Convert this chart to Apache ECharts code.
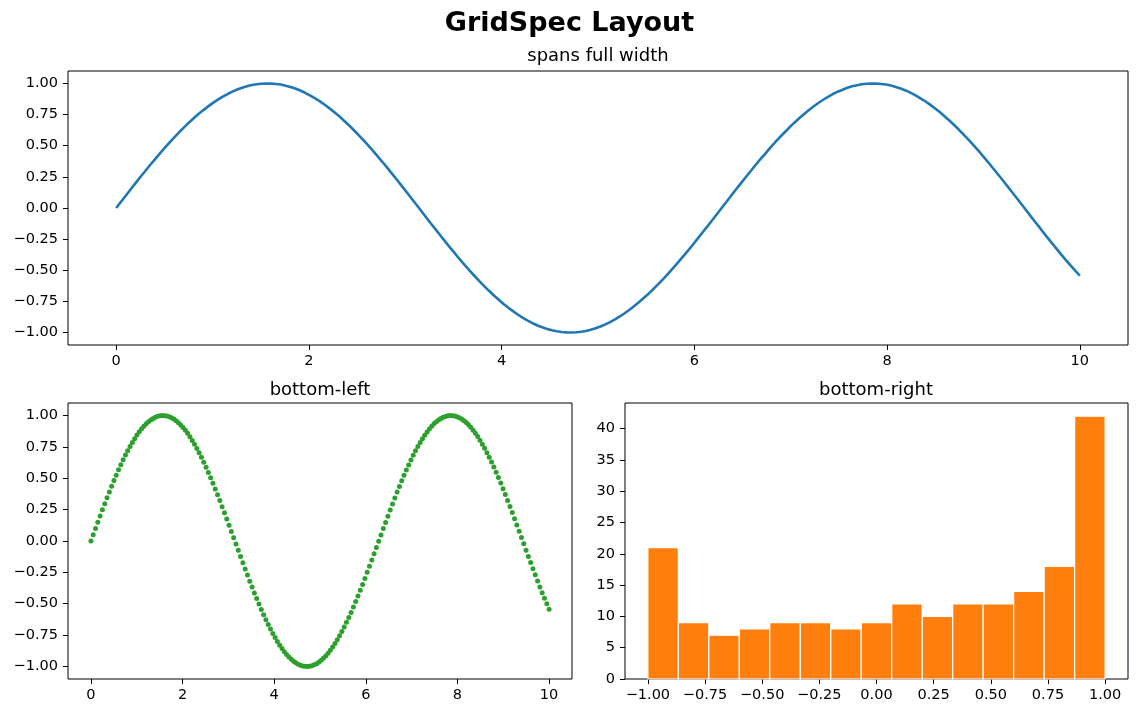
<!DOCTYPE html>
<html>
<head>
<meta charset="utf-8">
<title>GridSpec Layout</title>
<script src="https://cdn.jsdelivr.net/npm/echarts@6/dist/echarts.min.js"></script>
<style>
  html, body { margin: 0; padding: 0; background: #fff; }
  #main { width: 1139px; height: 716px; }
</style>
</head>
<body>
<div id="main"></div>
<script>
// sample positions along x (0 .. 10, 200 points)
const xs = [
  0, 0.050, 0.101, 0.151, 0.201, 0.251, 0.302, 0.352, 0.402, 0.452, 0.503, 0.553, 0.603, 0.653, 0.704, 0.754, 0.804, 0.854, 0.905, 0.955,
  1.005, 1.055, 1.106, 1.156, 1.206, 1.256, 1.307, 1.357, 1.407, 1.457, 1.508, 1.558, 1.608, 1.658, 1.709, 1.759, 1.809, 1.859, 1.910, 1.960,
  2.010, 2.060, 2.111, 2.161, 2.211, 2.261, 2.312, 2.362, 2.412, 2.462, 2.513, 2.563, 2.613, 2.663, 2.714, 2.764, 2.814, 2.864, 2.915, 2.965,
  3.015, 3.065, 3.116, 3.166, 3.216, 3.266, 3.317, 3.367, 3.417, 3.467, 3.518, 3.568, 3.618, 3.668, 3.719, 3.769, 3.819, 3.869, 3.920, 3.970,
  4.020, 4.070, 4.121, 4.171, 4.221, 4.271, 4.322, 4.372, 4.422, 4.472, 4.523, 4.573, 4.623, 4.673, 4.724, 4.774, 4.824, 4.874, 4.925, 4.975,
  5.025, 5.075, 5.126, 5.176, 5.226, 5.276, 5.327, 5.377, 5.427, 5.477, 5.528, 5.578, 5.628, 5.678, 5.729, 5.779, 5.829, 5.879, 5.930, 5.980,
  6.030, 6.080, 6.131, 6.181, 6.231, 6.281, 6.332, 6.382, 6.432, 6.482, 6.533, 6.583, 6.633, 6.683, 6.734, 6.784, 6.834, 6.884, 6.935, 6.985,
  7.035, 7.085, 7.136, 7.186, 7.236, 7.286, 7.337, 7.387, 7.437, 7.487, 7.538, 7.588, 7.638, 7.688, 7.739, 7.789, 7.839, 7.889, 7.940, 7.990,
  8.040, 8.090, 8.141, 8.191, 8.241, 8.291, 8.342, 8.392, 8.442, 8.492, 8.543, 8.593, 8.643, 8.693, 8.744, 8.794, 8.844, 8.894, 8.945, 8.995,
  9.045, 9.095, 9.146, 9.196, 9.246, 9.296, 9.347, 9.397, 9.447, 9.497, 9.548, 9.598, 9.648, 9.698, 9.749, 9.799, 9.849, 9.899, 9.950, 10
]

// curve values
const ys = [
  0.000, 0.050, 0.100, 0.150, 0.200, 0.249, 0.297, 0.345, 0.391, 0.437, 0.482, 0.525, 0.567, 0.608, 0.647, 0.685, 0.720, 0.754, 0.786, 0.816,
  0.844, 0.870, 0.894, 0.915, 0.934, 0.951, 0.965, 0.977, 0.987, 0.994, 0.998, 1.000, 0.999, 0.996, 0.991, 0.982, 0.972, 0.959, 0.943, 0.925,
  0.905, 0.882, 0.858, 0.831, 0.802, 0.771, 0.738, 0.703, 0.667, 0.628, 0.588, 0.547, 0.504, 0.460, 0.415, 0.369, 0.322, 0.274, 0.225, 0.176,
  0.126, 0.076, 0.026, -0.024, -0.074, -0.124, -0.174, -0.223, -0.272, -0.320, -0.367, -0.414, -0.459, -0.503, -0.546, -0.587, -0.627, -0.665, -0.702, -0.737,
  -0.770, -0.801, -0.830, -0.857, -0.882, -0.904, -0.925, -0.943, -0.958, -0.971, -0.982, -0.990, -0.996, -0.999, -1.000, -0.998, -0.994, -0.987, -0.978, -0.966,
  -0.951, -0.935, -0.916, -0.895, -0.871, -0.845, -0.817, -0.787, -0.755, -0.721, -0.686, -0.648, -0.609, -0.569, -0.527, -0.483, -0.439, -0.393, -0.346, -0.299,
  -0.250, -0.201, -0.152, -0.102, -0.052, -0.002, 0.048, 0.099, 0.148, 0.198, 0.247, 0.295, 0.343, 0.390, 0.435, 0.480, 0.524, 0.566, 0.606, 0.646,
  0.683, 0.719, 0.753, 0.785, 0.815, 0.843, 0.869, 0.893, 0.915, 0.934, 0.950, 0.965, 0.977, 0.986, 0.993, 0.998, 1.000, 0.999, 0.996, 0.991,
  0.983, 0.972, 0.959, 0.944, 0.926, 0.906, 0.883, 0.859, 0.832, 0.803, 0.772, 0.739, 0.704, 0.668, 0.630, 0.590, 0.549, 0.506, 0.462, 0.417,
  0.371, 0.323, 0.275, 0.227, 0.178, 0.128, 0.078, 0.028, -0.022, -0.073, -0.123, -0.172, -0.222, -0.270, -0.318, -0.366, -0.412, -0.457, -0.501, -0.544
]

// histogram of the curve values (15 bins)
const histEdges = [-1, -0.8667, -0.7333, -0.6, -0.4667, -0.3333, -0.2, -0.0667, 0.0667, 0.2, 0.3333, 0.4667, 0.6, 0.7333, 0.8667, 1]
const histCounts = [21, 9, 7, 8, 9, 9, 8, 9, 12, 10, 12, 12, 14, 18, 42]

// tick labels
const sinXTicks = [0, 2, 4, 6, 8, 10]
const sinYTicks = [-1, -0.75, -0.5, -0.25, 0, 0.25, 0.5, 0.75, 1]
const histXTicks = [-1, -0.75, -0.5, -0.25, 0, 0.25, 0.5, 0.75, 1]
const histYTicks = [0, 5, 10, 15, 20, 25, 30, 35, 40]

const FONT = 'DejaVu Sans'
const curveData = xs.map((x, i) => [x, ys[i]])
const histData = histCounts.map((c, i) => [histEdges[i], histEdges[i + 1], c])

function fmt2(v) {
  return (v < 0 ? '\u2212' : '') + Math.abs(v).toFixed(2)
}

function makeAxis(gridIndex, min, max, ticks, formatter, margin) {
  return {
    type: 'value',
    gridIndex: gridIndex,
    min: min,
    max: max,
    axisLine: { show: false, onZero: false },
    splitLine: { show: false },
    axisTick: {
      show: true,
      customValues: ticks,
      length: 5,
      lineStyle: { color: '#000', width: 1 }
    },
    axisLabel: {
      customValues: ticks,
      formatter: formatter,
      margin: margin,
      color: '#000',
      fontFamily: FONT,
      fontSize: 14.5
    }
  }
}

const dom = document.getElementById('main')
const myChart = echarts.init(dom, null, { renderer: 'canvas' })

const subTitle = (text, x, y) => ({
  text: text,
  left: x,
  top: y,
  textAlign: 'center',
  padding: 0,
  textStyle: { fontFamily: FONT, fontSize: 18, fontWeight: 'normal', color: '#000' }
})

const option = {
  backgroundColor: '#fff',
  animation: false,
  title: [
    {
      text: 'GridSpec Layout',
      left: 'center',
      top: 10,
      padding: 0,
      textStyle: { fontFamily: FONT, fontSize: 27, fontWeight: 'bold', color: '#000' }
    },
    subTitle('spans full width', 598, 47),
    subTitle('bottom-left', 320, 381),
    subTitle('bottom-right', 876, 381)
  ],
  grid: [
    { left: 68, top: 71, width: 1060, height: 274, show: true, borderColor: '#000', borderWidth: 1 },
    { left: 68, top: 403, width: 504, height: 276, show: true, borderColor: '#000', borderWidth: 1 },
    { left: 625, top: 403, width: 503, height: 276, show: true, borderColor: '#000', borderWidth: 1 }
  ],
  xAxis: [
    makeAxis(0, -0.5, 10.5, sinXTicks, v => String(v), 9),
    makeAxis(1, -0.5, 10.5, sinXTicks, v => String(v), 9),
    makeAxis(2, -1.1, 1.1, histXTicks, fmt2, 9)
  ],
  yAxis: [
    makeAxis(0, -1.1, 1.1, sinYTicks, fmt2, 10),
    makeAxis(1, -1.1, 1.1, sinYTicks, fmt2, 10),
    makeAxis(2, 0, 44.1, histYTicks, v => String(v), 10)
  ],
  series: [
    {
      name: 'spans full width',
      type: 'line',
      xAxisIndex: 0,
      yAxisIndex: 0,
      data: curveData,
      showSymbol: false,
      symbol: 'none',
      lineStyle: { color: '#1f77b4', width: 2.6 }
    },
    {
      name: 'bottom-left',
      type: 'scatter',
      xAxisIndex: 1,
      yAxisIndex: 1,
      data: curveData,
      symbol: 'circle',
      symbolSize: 5,
      itemStyle: { color: '#2ca02c', opacity: 1 }
    },
    {
      name: 'bottom-right',
      type: 'custom',
      xAxisIndex: 2,
      yAxisIndex: 2,
      data: histData,
      encode: { x: [0, 1], y: 2 },
      renderItem: function (params, api) {
        const p0 = api.coord([api.value(0), api.value(2)])
        const p1 = api.coord([api.value(1), 0])
        return {
          type: 'rect',
          shape: { x: p0[0], y: p0[1], width: p1[0] - p0[0], height: p1[1] - p0[1] },
          style: { fill: '#ff7f0e', stroke: '#fff', lineWidth: 1.2 }
        }
      }
    }
  ]
}

myChart.setOption(option)
</script>
</body>
</html>
